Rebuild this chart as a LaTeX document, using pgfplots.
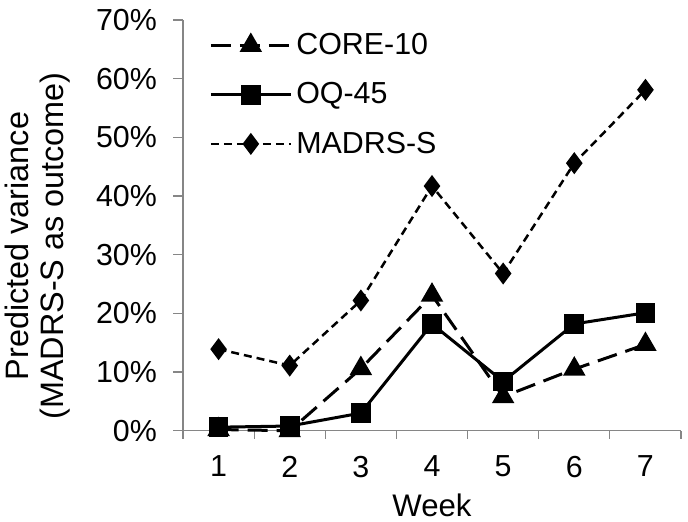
\documentclass[border=0pt]{standalone}
\usepackage{fontspec}
\setmainfont{Liberation Sans}
\usepackage{pgfplots}
\pgfplotsset{compat=1.18}
\definecolor{axgray}{HTML}{868686}
\begin{document}
\begin{tikzpicture}[x=1pt,y=1pt]
\path[use as bounding box] (0,0) rectangle (344,260.5);
\begin{axis}[
  at={(91.5pt,45.15pt)}, anchor=south west,
  scale only axis, width=249pt, height=205.35pt,
  xmin=0.5, xmax=7.5, ymin=0, ymax=70,
  axis x line*=bottom, axis y line*=left,
  axis line style={axgray, line width=0.6pt},
  tick style={axgray, line width=0.6pt},
  tick align=outside,
  xtick={1,...,7}, xticklabels={1,2,3,4,5,6,7},
  major x tick style={draw=none},
  minor xtick={0.5,1.5,...,7.5},
  ytick={0,10,...,70},
  yticklabels={0\%,10\%,20\%,30\%,40\%,50\%,60\%,70\%},
  major tick length=5pt, minor tick length=4pt,
  ticklabel style={font=\fontsize{15.2}{18}\selectfont},
  yticklabel style={xshift=-4.5pt},
  xticklabel style={yshift=-4pt},
  xlabel={Week},
  xlabel style={font=\fontsize{15.6}{18}\selectfont, at={(axis description cs:0.5,-0.182)}, anchor=center},
  ylabel={Predicted variance\\(MADRS-S as outcome)},
  ylabel style={font=\fontsize{16.2}{17.5}\selectfont, align=center, at={(axis description cs:-0.291,0.45)}, anchor=center},
  legend style={draw=none, fill=none, at={(axis description cs:0.04,0.988)}, anchor=north west,
    font=\fontsize{15.2}{18}\selectfont, row sep=8.5pt},
  legend cell align=left,
  legend image code/.code={\draw[mark repeat=2,mark phase=2,#1] plot coordinates {(0pt,0pt) (20pt,0pt) (40pt,0pt)};},
  clip=false,
]
\addplot[black, line width=1.5pt, dash pattern=on 10pt off 4.5pt, mark=triangle*, mark size=5pt, mark options={solid}]
  coordinates {(1,0.2) (2,0.0) (3,10.6) (4,23.1) (5,5.8) (6,10.5) (7,14.7)};
\addlegendentry{CORE-10}
\addplot[black, line width=1.5pt, mark=square*, mark size=4.2pt, mark options={solid}]
  coordinates {(1,0.6) (2,0.8) (3,3.0) (4,18.2) (5,8.4) (6,18.2) (7,20.1)};
\addlegendentry{OQ-45}
\addplot[black, line width=1.25pt, dash pattern=on 4pt off 2.5pt, mark=diamond*, mark size=4.5pt, mark options={solid}]
  coordinates {(1,13.9) (2,11.1) (3,22.2) (4,41.7) (5,26.8) (6,45.6) (7,58.1)};
\addlegendentry{MADRS-S}
\end{axis}
\end{tikzpicture}
\end{document}
